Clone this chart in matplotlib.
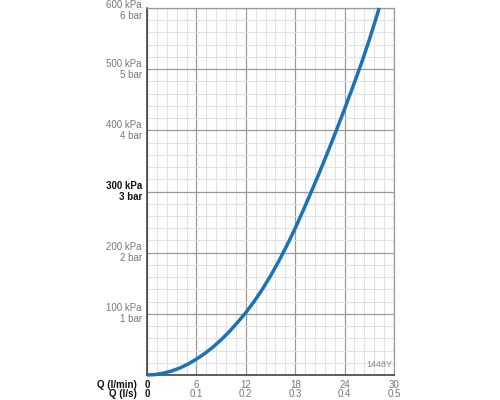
import matplotlib
matplotlib.use("Agg")
import matplotlib.pyplot as plt
from matplotlib.ticker import MultipleLocator
import matplotlib.transforms as mtransforms

plt.rcParams['font.family'] = ['Liberation Sans', 'DejaVu Sans']

# data
flow_lmin = [0, 1, 2, 3, 4, 5, 6, 7, 8, 9, 10, 11, 12, 13, 14, 15, 16, 17, 18,
             19, 20, 21, 22, 23, 24, 25, 26, 27, 28, 28.2]
pressure_kpa = [0, 0.7, 3, 6.6, 11.5, 18, 26, 35, 45.5, 57.5, 71, 86, 102, 120,
                140, 162, 186, 212, 240, 270, 301, 333, 366, 400, 435, 471,
                508, 548, 591, 600]

y_ticks = [100, 200, 300, 400, 500, 600]
y_labels_kpa = ["100 kPa", "200 kPa", "300 kPa", "400 kPa", "500 kPa", "600 kPa"]
y_labels_bar = ["1 bar", "2 bar", "3 bar", "4 bar", "5 bar", "6 bar"]
x_ticks = [0, 6, 12, 18, 24, 30]
x_labels_lmin = ["0", "6", "12", "18", "24", "30"]
x_labels_ls = ["0", "0.1", "0.2", "0.3", "0.4", "0.5"]

fig = plt.figure(figsize=(5, 4), dpi=100)
ax = fig.add_axes([0.294, 0.0625, 0.494, 0.9175])
ax.set_xlim(0, 30)
ax.set_ylim(0, 600)

ax.xaxis.set_major_locator(MultipleLocator(6))
ax.xaxis.set_minor_locator(MultipleLocator(1.2))
ax.yaxis.set_major_locator(MultipleLocator(100))
ax.yaxis.set_minor_locator(MultipleLocator(20))
ax.grid(which='minor', color='#e2e2e2', linewidth=0.8)
ax.grid(which='major', color='#9a9a9a', linewidth=0.9)
ax.set_axisbelow(True)
ax.tick_params(which='both', length=0, labelleft=False, labelbottom=False)

for side in ['top', 'right']:
    ax.spines[side].set_color('#9a9a9a')
    ax.spines[side].set_linewidth(0.9)
for side in ['left', 'bottom']:
    ax.spines[side].set_color('#333333')
    ax.spines[side].set_linewidth(1.1)

ax.plot(flow_lmin, pressure_kpa, color='#1a72b9', linewidth=2.5,
        solid_capstyle='butt', solid_joinstyle='round', clip_on=False, zorder=5)

# y labels
trans_y = mtransforms.blended_transform_factory(ax.transAxes, ax.transData)
for v, k, b in zip(y_ticks, y_labels_kpa, y_labels_bar):
    bold = (v == 300)
    dy = -2.5 / 100 if v == 600 else 0
    off = mtransforms.ScaledTranslation(-5 / 100, dy, fig.dpi_scale_trans)
    ax.text(0, v, k + "\n" + b, transform=trans_y + off, ha='right', va='center',
            fontsize=7, linespacing=1.15,
            color='#111111' if bold else '#777777',
            fontweight='bold' if bold else 'normal')

# x labels
trans_x = mtransforms.blended_transform_factory(ax.transData, ax.transAxes)
for v, a, b in zip(x_ticks, x_labels_lmin, x_labels_ls):
    zero = (v == 0)
    col = '#111111' if zero else '#777777'
    fw = 'bold' if zero else 'normal'
    ax.text(v, 0, a, transform=trans_x + mtransforms.ScaledTranslation(0, -10 / 100, fig.dpi_scale_trans),
            ha='center', va='center', fontsize=7, color=col, fontweight=fw)
    ax.text(v, 0, b, transform=trans_x + mtransforms.ScaledTranslation(0, -19 / 100, fig.dpi_scale_trans),
            ha='center', va='center', fontsize=7, color=col, fontweight=fw)

ax.text(0, 0, "Q (l/min)", transform=ax.transAxes + mtransforms.ScaledTranslation(-10 / 100, -10 / 100, fig.dpi_scale_trans),
        ha='right', va='center', fontsize=7, fontweight='bold', color='#111111')
ax.text(0, 0, "Q (l/s)", transform=ax.transAxes + mtransforms.ScaledTranslation(-10 / 100, -19 / 100, fig.dpi_scale_trans),
        ha='right', va='center', fontsize=7, fontweight='bold', color='#111111')

ax.text(0.995, 0.015, "1448Y", transform=ax.transAxes, ha='right', va='bottom',
        fontsize=6.5, color='#888888')

fig.savefig("out.png", dpi=100)
